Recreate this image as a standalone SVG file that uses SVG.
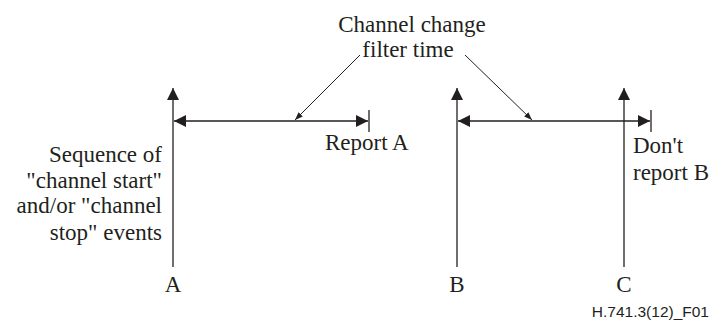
<svg xmlns="http://www.w3.org/2000/svg" width="712" height="320" viewBox="0 0 712 320">
<style>
.t{font-family:"Liberation Serif",serif;font-size:23px;fill:#231f20}
.s{font-family:"Liberation Sans",sans-serif;font-size:15.5px;fill:#231f20}
.l{stroke:#231f20;stroke-width:1.3;fill:none}
.p{stroke:#231f20;stroke-width:1;fill:none}
</style>
<defs>
<marker id="big" viewBox="0 0 12 12" refX="12" refY="6" markerWidth="12" markerHeight="12" markerUnits="userSpaceOnUse" orient="auto-start-reverse">
<path d="M0,0 L12,6 L0,12 Z" fill="#231f20"/>
</marker>
<marker id="sm" viewBox="0 0 8 6" refX="8" refY="3" markerWidth="8" markerHeight="6" markerUnits="userSpaceOnUse" orient="auto">
<path d="M0,0 L8,3 L0,6 Z" fill="#231f20"/>
</marker>
</defs>
<g id="label-title">
<text class="t" x="412" y="32" text-anchor="middle">Channel change</text>
<text class="t" x="408" y="57" text-anchor="middle">filter time</text>
</g>
<g id="event-A">
<line class="l" x1="173" y1="267" x2="173" y2="88" marker-end="url(#big)"/>
<text class="t" x="173" y="292" text-anchor="middle">A</text>
</g>
<g id="event-B">
<line class="l" x1="457" y1="267" x2="457" y2="88" marker-end="url(#big)"/>
<text class="t" x="457" y="292" text-anchor="middle">B</text>
</g>
<g id="event-C">
<line class="l" x1="624" y1="267" x2="624" y2="88" marker-end="url(#big)"/>
<text class="t" x="624" y="292" text-anchor="middle">C</text>
</g>
<g id="label-sequence">
<text class="t" x="162" y="162" text-anchor="end">Sequence of</text>
<text class="t" x="162" y="188" text-anchor="end">"channel start"</text>
<text class="t" x="162" y="213" text-anchor="end">and/or "channel</text>
<text class="t" x="162" y="240" text-anchor="end">stop" events</text>
</g>
<g id="interval-A">
<line class="l" x1="369" y1="110" x2="369" y2="132"/>
<text class="t" x="325" y="150">Report A</text>
</g>
<g id="interval-B">
<line class="l" x1="651" y1="110" x2="651" y2="132"/>
<text class="t" x="633" y="153">Don't</text>
<text class="t" x="633" y="180">report B</text>
</g>
<g id="connectors">
<line class="l" x1="174" y1="121" x2="368" y2="121" marker-start="url(#big)" marker-end="url(#big)"/>
<line class="l" x1="458" y1="121" x2="650" y2="121" marker-start="url(#big)" marker-end="url(#big)"/>
<line class="p" x1="360" y1="55" x2="295" y2="120" marker-end="url(#sm)"/>
<line class="p" x1="465" y1="55" x2="532" y2="120" marker-end="url(#sm)"/>
</g>
<text class="s" x="709" y="317" text-anchor="end">H.741.3(12)_F01</text>
</svg>
